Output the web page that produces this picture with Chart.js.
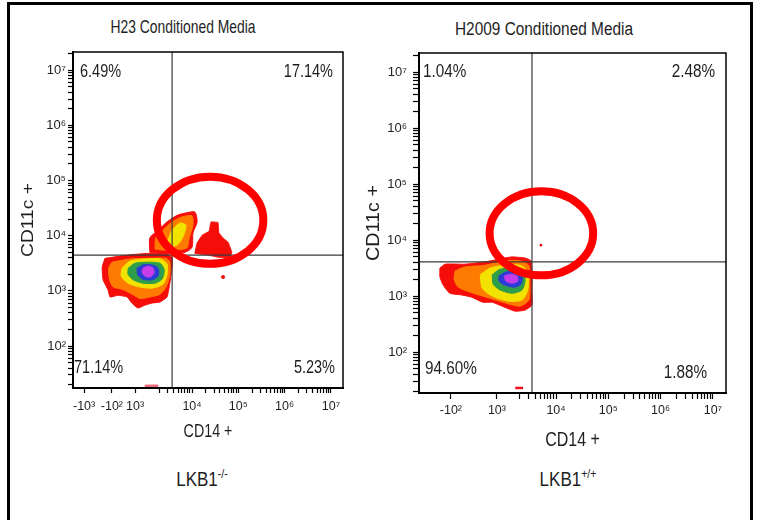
<!DOCTYPE html>
<html><head><meta charset="utf-8">
<script src="https://cdn.jsdelivr.net/npm/chart.js@4.4.0/dist/chart.umd.min.js"></script>
<style>
body{margin:0;background:#fff;width:758px;height:520px;overflow:hidden;position:relative;
 font-family:"Liberation Sans",Arial,sans-serif;color:#1e1e1e;}
#frame{position:absolute;left:7px;top:2px;width:746px;height:540px;border:3px solid #000;box-sizing:border-box;}
.box{position:absolute;}
.ttl{position:absolute;white-space:nowrap;}
.ttl sup{font-size:62%;vertical-align:top;position:relative;top:-2px;}
</style></head>
<body>
<div id="frame"></div>
<div class="ttl" id="t1" style="left:183px;top:26.5px;font-size:13.9px;transform:translate(-50%,-50%) scaleY(1.28);"></div>
<div class="ttl" id="t2" style="left:544px;top:28.5px;font-size:15.4px;transform:translate(-50%,-50%) scaleY(1.22);"></div>
<div class="ttl" id="g1" style="left:202px;top:480px;font-size:17px;transform:translate(-50%,-50%) scaleY(1.2);"></div>
<div class="ttl" id="g2" style="left:568px;top:480px;font-size:17px;transform:translate(-50%,-50%) scaleY(1.2);"></div>
<div class="box" style="left:0;top:0;width:365px;height:450px"><canvas id="c1"></canvas></div>
<div class="box" style="left:340px;top:0;width:418px;height:460px"><canvas id="c2"></canvas></div>
<script>
// ---------- texts ----------
const panelTitles = ["H23 Conditioned Media", "H2009 Conditioned Media"];
const genotypeNames = ["LKB1", "LKB1"];
const genotypeSups = ["-/-", "+/+"];
const xAxisTitle = "CD14 +";
const yAxisTitle = "CD11c +";

// ---------- ticks (axis units = decades of the display scale) ----------
const yTickValues = [2, 3, 4, 5, 6, 7];
const yTickLabels = ["10²", "10³", "10⁴", "10⁵", "10⁶", "10⁷"];
const leftXTickValues = [1.67, 2.27, 2.77, 4, 5, 6, 7];
const leftXTickLabels = ["-10³", "-10²", "10³", "10⁴", "10⁵", "10⁶", "10⁷"];
const rightXTickValues = [1.99, 2.87, 4, 5, 6, 7];
const rightXTickLabels = ["-10²", "10³", "10⁴", "10⁵", "10⁶", "10⁷"];
const leftRange = [1.43, 7.26, 1.24, 7.33];   // xmin,xmax,ymin,ymax
const rightRange = [1.38, 7.25, 1.27, 7.34];

// ---------- quadrant gates and percentages (UL, UR, LL, LR) ----------
const leftGate = [3.57, 3.65];
const rightGate = [3.54, 3.61];
const leftQuadrantPct = ["6.49%", "17.14%", "71.14%", "5.23%"];
const rightQuadrantPct = ["1.04%", "2.48%", "94.60%", "1.88%"];

// ---------- highlighted regions (center x, center y, radius x, radius y) ----------
const leftEllipse = [4.39, 4.28, 1.15, 0.79];
const rightEllipse = [3.72, 4.12, 0.99, 0.75];

// ---------- density contours, H23 ----------
const h23MainRed = [[2.12,3.59],[2.62,3.65],[3.05,3.68],[3.46,3.67],[3.57,3.61],[3.57,3.43],[3.52,3.14],[3.46,2.89],[3.31,2.80],[3.14,2.78],[2.98,2.74],[2.83,2.69],[2.70,2.78],[2.60,2.89],[2.40,2.92],[2.23,2.89],[2.19,3.01],[2.08,3.20],[2.06,3.43]];
const h23MainOrange = [[2.27,3.52],[2.66,3.58],[3.09,3.59],[3.44,3.59],[3.52,3.52],[3.52,3.29],[3.44,3.07],[3.31,2.94],[3.09,2.89],[2.88,2.86],[2.73,2.93],[2.49,3.03],[2.30,3.07],[2.22,3.20],[2.20,3.41]];
const h23MainYellow = [[2.49,3.41],[2.66,3.54],[2.98,3.58],[3.31,3.58],[3.46,3.49],[3.46,3.29],[3.37,3.12],[3.14,3.05],[2.88,3.07],[2.62,3.14],[2.47,3.27]];
const h23MainGreen = [[2.62,3.41],[2.77,3.50],[3.05,3.52],[3.31,3.50],[3.40,3.38],[3.35,3.21],[3.20,3.14],[2.94,3.14],[2.73,3.20],[2.62,3.30]];
const h23MainBlue = [[2.81,3.41],[2.94,3.47],[3.14,3.47],[3.27,3.41],[3.27,3.27],[3.14,3.20],[2.94,3.21],[2.83,3.29]];
const h23MainMagenta = [[2.94,3.41],[3.05,3.45],[3.16,3.41],[3.18,3.32],[3.09,3.25],[2.98,3.27],[2.92,3.34]];
const h23UpperRed = [[3.09,3.70],[3.09,3.96],[3.27,4.10],[3.46,4.25],[3.68,4.37],[3.85,4.41],[4.06,4.43],[4.11,4.25],[4.02,4.05],[4.00,3.79],[3.85,3.70],[3.57,3.68],[3.35,3.68]];
const h23UpperOrange = [[3.20,3.76],[3.22,3.96],[3.37,4.10],[3.57,4.25],[3.78,4.34],[4.00,4.36],[4.02,4.19],[3.94,3.96],[3.89,3.78],[3.63,3.74],[3.35,3.74]];
const h23UpperYellow = [[3.48,3.92],[3.57,4.10],[3.74,4.23],[3.87,4.19],[3.81,3.99],[3.68,3.83],[3.52,3.81]];
const h23RightRed = [[4.06,3.68],[4.11,3.87],[4.22,4.01],[4.37,4.08],[4.41,4.25],[4.56,4.24],[4.58,4.05],[4.67,3.96],[4.78,3.88],[4.86,3.70],[4.82,3.61],[4.56,3.61],[4.35,3.65]];
const h23Dots = [[4.67,3.25]];
const h23AxisEvents = [[2.98,1.28],[3.27,1.28]];

// ---------- density contours, H2009 ----------
const h2009Red = [[1.78,3.50],[1.88,3.57],[2.26,3.57],[2.64,3.61],[3.02,3.68],[3.16,3.70],[3.41,3.68],[3.52,3.63],[3.54,3.43],[3.54,3.07],[3.54,2.84],[3.41,2.75],[3.22,2.73],[3.02,2.80],[2.78,2.89],[2.60,2.89],[2.39,2.98],[2.20,3.02],[1.97,3.05],[1.84,3.20],[1.78,3.34]];
const h2009Orange = [[2.07,3.45],[2.26,3.52],[2.64,3.55],[3.02,3.63],[3.31,3.63],[3.48,3.54],[3.50,3.20],[3.48,2.93],[3.31,2.82],[3.02,2.88],[2.74,2.96],[2.36,3.07],[2.13,3.16],[2.05,3.30]];
const h2009Yellow = [[2.55,3.38],[2.74,3.50],[3.02,3.55],[3.31,3.55],[3.46,3.43],[3.46,3.11],[3.35,2.93],[3.08,2.91],[2.78,3.00],[2.59,3.14]];
const h2009Green = [[2.78,3.38],[2.93,3.48],[3.16,3.50],[3.35,3.46],[3.41,3.29],[3.35,3.11],[3.16,3.05],[2.93,3.11],[2.80,3.21]];
const h2009Blue = [[2.91,3.36],[3.04,3.43],[3.24,3.43],[3.35,3.36],[3.33,3.21],[3.20,3.16],[3.01,3.20],[2.91,3.27]];
const h2009Magenta = [[3.01,3.36],[3.12,3.39],[3.25,3.36],[3.27,3.27],[3.16,3.23],[3.04,3.27]];
const h2009Dots = [[3.71,3.91]];
const h2009AxisEvents = [[3.22,1.36],[3.37,1.36]];

// ---------- rendering ----------
const FONT = '"Liberation Sans",Arial,sans-serif';
Chart.defaults.font.family = FONT;
Chart.defaults.color = '#1e1e1e';

document.getElementById('t1').textContent = panelTitles[0];
document.getElementById('t2').textContent = panelTitles[1];
document.getElementById('g1').innerHTML = genotypeNames[0] + '<sup>' + genotypeSups[0] + '</sup>';
document.getElementById('g2').innerHTML = genotypeNames[1] + '<sup>' + genotypeSups[1] + '</sup>';

const COL = {red:'#f50d0a', orange:'#ff7a00', yellow:'#f2e200', green:'#2e9e4a', blue:'#2c3bd6', magenta:'#c43de8'};
const pts = a => a.map(p => ({x:p[0], y:p[1]}));
const closed = a => pts(a.concat([a[0]]));
function blob(a, c, order, tension){
  return {data: closed(a), borderColor: c, backgroundColor: c, borderWidth: 1, fill: 'shape',
          pointRadius: 0, tension: tension === undefined ? 0.25 : tension, order: order};
}
function gateLines(g, r){
  return [
    {data: pts([[g[0], r[2]], [g[0], r[3]]]), borderColor:'#3a3a3a', borderWidth:1.2, pointRadius:0, fill:false, order:0},
    {data: pts([[r[0], g[1]], [r[1], g[1]]]), borderColor:'#3a3a3a', borderWidth:1.2, pointRadius:0, fill:false, order:0}
  ];
}
function minorTicks(lo, hi, from){
  const out = [];
  for (let n = from; n <= 7; n++) for (let k = 2; k <= 9; k++) {
    const v = n + Math.log10(k); if (v > lo && v < hi) out.push(v);
  }
  return out;
}
function stretchedText(ctx, text, x, y, align, sx, sy, rot){
  ctx.save(); ctx.translate(x, y); if (rot) ctx.rotate(rot); ctx.scale(sx, sy);
  ctx.textAlign = align; ctx.textBaseline = 'middle'; ctx.fillText(text, 0, 0); ctx.restore();
}

const frameAndMarks = {
  id: 'frameAndMarks',
  afterDatasetsDraw(chart, args, opts) {
    const {ctx, chartArea: a, scales} = chart;
    const e = opts.ellipse;
    const cx = scales.x.getPixelForValue(e[0]), cy = scales.y.getPixelForValue(e[1]);
    const rx = Math.abs(scales.x.getPixelForValue(e[0] + e[2]) - cx);
    const ry = Math.abs(scales.y.getPixelForValue(e[1] + e[3]) - cy);
    ctx.save();
    ctx.strokeStyle = '#f00'; ctx.lineWidth = opts.ellipseWidth;
    ctx.beginPath(); ctx.ellipse(cx, cy, rx, ry, 0, 0, Math.PI * 2); ctx.stroke();
    ctx.strokeStyle = '#000'; ctx.lineWidth = 1.5;
    ctx.strokeRect(a.left, a.top, a.right - a.left, a.bottom - a.top);
    ctx.fillStyle = '#1e1e1e';
    ctx.font = opts.fontSize + 'px ' + FONT;
    const L = opts.labels, o = opts.offsets, s = opts.stretch;
    stretchedText(ctx, L[0], a.left + o[0][0], a.top + o[0][1], 'left', 1, s);
    stretchedText(ctx, L[1], a.right - o[1][0], a.top + o[1][1], 'right', 1, s);
    stretchedText(ctx, L[2], a.left + o[2][0], a.bottom - o[2][1], 'left', 1, s);
    stretchedText(ctx, L[3], a.right - o[3][0], a.bottom - o[3][1], 'right', 1, s);
    // axis titles
    ctx.font = opts.xTitleSize + 'px ' + FONT;
    stretchedText(ctx, xAxisTitle, (a.left + a.right) / 2, opts.xTitleY, 'center', 1, s);
    ctx.font = opts.yTitleSize + 'px ' + FONT;
    stretchedText(ctx, yAxisTitle, opts.yTitleX, (a.top + a.bottom) / 2, 'center', opts.yStretch, 1, -Math.PI / 2);
    ctx.restore();
  }
};

function makeChart(id, cfg){
  const r = cfg.range;
  return new Chart(document.getElementById(id), {
    type: 'line',
    data: {datasets: cfg.datasets},
    plugins: [frameAndMarks],
    options: {
      responsive: true, maintainAspectRatio: false, animation: false,
      layout: {padding: cfg.padding},
      plugins: {legend:{display:false}, tooltip:{enabled:false},
        frameAndMarks: {ellipse: cfg.ellipse, ellipseWidth: 8, labels: cfg.pct, offsets: cfg.pctOffsets,
          fontSize: cfg.pctSize, stretch: cfg.stretch, yStretch: cfg.yStretch, xTitleSize: cfg.xTitleSize,
          yTitleSize: cfg.yTitleSize, xTitleY: cfg.xTitleY, yTitleX: cfg.yTitleX}},
      scales: {
        x: {type:'linear', min:r[0], max:r[1],
          afterBuildTicks: s => { s.ticks = cfg.xTicks.concat(minorTicks(r[0], r[1], 3)).map(v => ({value:v})); },
          afterFit: s => { s.height = cfg.xHeight; },
          ticks: {autoSkip:false, maxRotation:0, minRotation:0, padding: cfg.xTickPad, font:{size:12.5}, color:'#1e1e1e',
            callback: v => { const i = cfg.xTicks.indexOf(v); return i >= 0 ? cfg.xLabels[i] : ''; }},
          grid: {drawOnChartArea:false, drawTicks:true, tickLength: cfg.tickLen, tickColor:'#000', tickWidth:1.2},
          border: {display:true, color:'#000', width:2},
          title: {display:false}
        },
        y: {type:'linear', min:r[2], max:r[3],
          afterBuildTicks: s => { s.ticks = yTickValues.concat(minorTicks(r[2], r[3], 1)).map(v => ({value:v})); },
          afterFit: s => { s.width = cfg.yWidth; },
          ticks: {autoSkip:false, padding: cfg.yTickPad, font:{size:13}, color:'#1e1e1e',
            callback: v => { const i = yTickValues.indexOf(v); return i >= 0 ? yTickLabels[i] : ''; }},
          grid: {drawOnChartArea:false, drawTicks:true, tickLength: cfg.tickLen, tickColor:'#000', tickWidth:1.2},
          border: {display:true, color:'#000', width:2},
          title: {display:false}
        }
      }
    }
  });
}

makeChart('c1', {
  range: leftRange, padding: {left:0, top:52, right:22, bottom:0},
  xHeight: 62, yWidth: 73, tickLen: 5, xTickPad: 6, yTickPad: 2,
  xTitleSize: 14.3, yTitleSize: 17, xTitleY: 432, yTitleX: 28.5, stretch: 1.28, yStretch: 1.13,
  xTicks: leftXTickValues, xLabels: leftXTickLabels,
  ellipse: leftEllipse, pct: leftQuadrantPct, pctSize: 14.5,
  pctOffsets: [[7,20],[10,20],[1,20],[8,20]],
  datasets: [
    ...gateLines(leftGate, leftRange),
    blob(h23MainMagenta, COL.magenta, 1), blob(h23MainBlue, COL.blue, 2), blob(h23MainGreen, COL.green, 3),
    blob(h23MainYellow, COL.yellow, 4), blob(h23UpperYellow, COL.yellow, 4),
    blob(h23MainOrange, COL.orange, 5), blob(h23UpperOrange, COL.orange, 5),
    blob(h23MainRed, COL.red, 6, 0.15), blob(h23UpperRed, COL.red, 6), blob(h23RightRed, COL.red, 6, 0.05),
    {data: pts(h23Dots), showLine:false, pointRadius:2, pointBackgroundColor:COL.red, pointBorderWidth:0, order:6},
    {data: pts(h23AxisEvents), borderColor:'#f06a78', borderWidth:2.5, pointRadius:0, fill:false, order:6}
  ]
});

makeChart('c2', {
  range: rightRange, padding: {left:0, top:53, right:32, bottom:0},
  xHeight: 67, yWidth: 79, tickLen: 6, xTickPad: 4, yTickPad: 6,
  xTitleSize: 16, yTitleSize: 17.5, xTitleY: 440, yTitleX: 34, stretch: 1.25, yStretch: 1.13,
  xTicks: rightXTickValues, xLabels: rightXTickLabels,
  ellipse: rightEllipse, pct: rightQuadrantPct, pctSize: 15.3,
  pctOffsets: [[4,19],[11,19],[6,24],[19,20]],
  datasets: [
    ...gateLines(rightGate, rightRange),
    blob(h2009Magenta, COL.magenta, 1), blob(h2009Blue, COL.blue, 2), blob(h2009Green, COL.green, 3),
    blob(h2009Yellow, COL.yellow, 4), blob(h2009Orange, COL.orange, 5), blob(h2009Red, COL.red, 6, 0.15),
    {data: pts(h2009Dots), showLine:false, pointRadius:1.3, pointBackgroundColor:COL.red, pointBorderWidth:0, order:6},
    {data: pts(h2009AxisEvents), borderColor:'#f01020', borderWidth:2.5, pointRadius:0, fill:false, order:6}
  ]
});
</script>
</body></html>
